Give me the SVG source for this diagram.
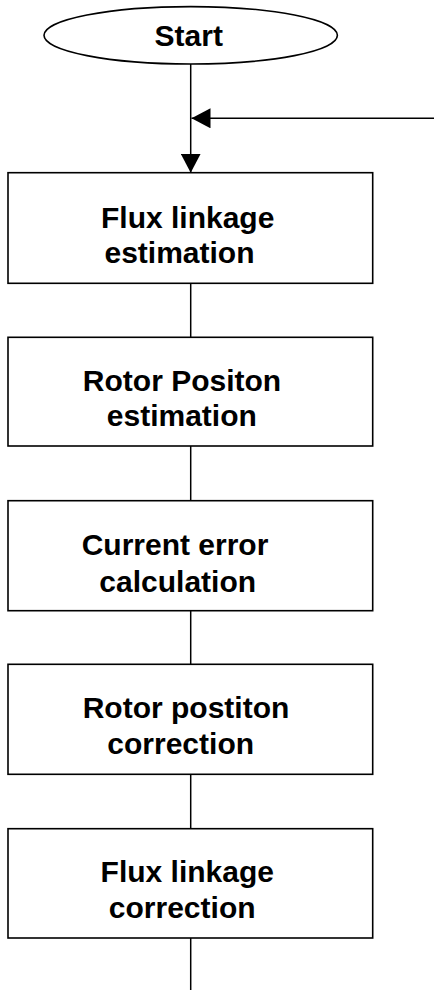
<svg xmlns="http://www.w3.org/2000/svg" width="434" height="990" viewBox="0 0 434 990">
<style>
.box{fill:#fff;stroke:#000;stroke-width:1.6}
.t{font-family:"Liberation Sans",Arial,sans-serif;font-weight:bold;font-size:30px;fill:#000;text-anchor:middle}
.c{stroke:#000;stroke-width:1.5;fill:none}
</style>
<defs>
<marker id="ah" markerUnits="userSpaceOnUse" markerWidth="19" markerHeight="20" refX="19" refY="10" orient="auto">
<path d="M0,0 L19,10 L0,20 z" fill="#000"/>
</marker>
</defs>
<rect width="434" height="990" fill="#fff"/>
<g id="connectors">
<line class="c" x1="190.7" y1="64" x2="190.7" y2="172.7" marker-end="url(#ah)"/>
<line class="c" x1="434" y1="118.3" x2="191.5" y2="118.3" marker-end="url(#ah)"/>
<line class="c" x1="190.7" y1="283.3" x2="190.7" y2="337.3"/>
<line class="c" x1="190.7" y1="446" x2="190.7" y2="500.7"/>
<line class="c" x1="190.7" y1="610.7" x2="190.7" y2="664.3"/>
<line class="c" x1="190.7" y1="774.3" x2="190.7" y2="828.7"/>
<line class="c" x1="190.7" y1="938" x2="190.7" y2="990"/>
</g>
<g id="start">
<ellipse class="box" cx="190.7" cy="35.3" rx="146.7" ry="28.7"/>
<text class="t" x="188.8" y="45.5">Start</text>
</g>
<g id="n1">
<rect class="box" x="8" y="172.7" width="364.7" height="110.6"/>
<text class="t" x="187.7" y="228.3">Flux linkage</text>
<text class="t" x="179.5" y="263.3">estimation</text>
</g>
<g id="n2">
<rect class="box" x="8" y="337.3" width="364.7" height="108.7"/>
<text class="t" x="182" y="391">Rotor Positon</text>
<text class="t" x="181.8" y="425.7">estimation</text>
</g>
<g id="n3">
<rect class="box" x="8" y="500.7" width="364.7" height="110"/>
<text class="t" x="175" y="555">Current error</text>
<text class="t" x="177.7" y="591.7">calculation</text>
</g>
<g id="n4">
<rect class="box" x="8" y="664.3" width="364.7" height="110"/>
<text class="t" x="186" y="718.3">Rotor postiton</text>
<text class="t" x="180.7" y="754">correction</text>
</g>
<g id="n5">
<rect class="box" x="8" y="828.7" width="364.7" height="109.3"/>
<text class="t" x="187.3" y="881.7">Flux linkage</text>
<text class="t" x="182.2" y="918.3">correction</text>
</g>
</svg>
